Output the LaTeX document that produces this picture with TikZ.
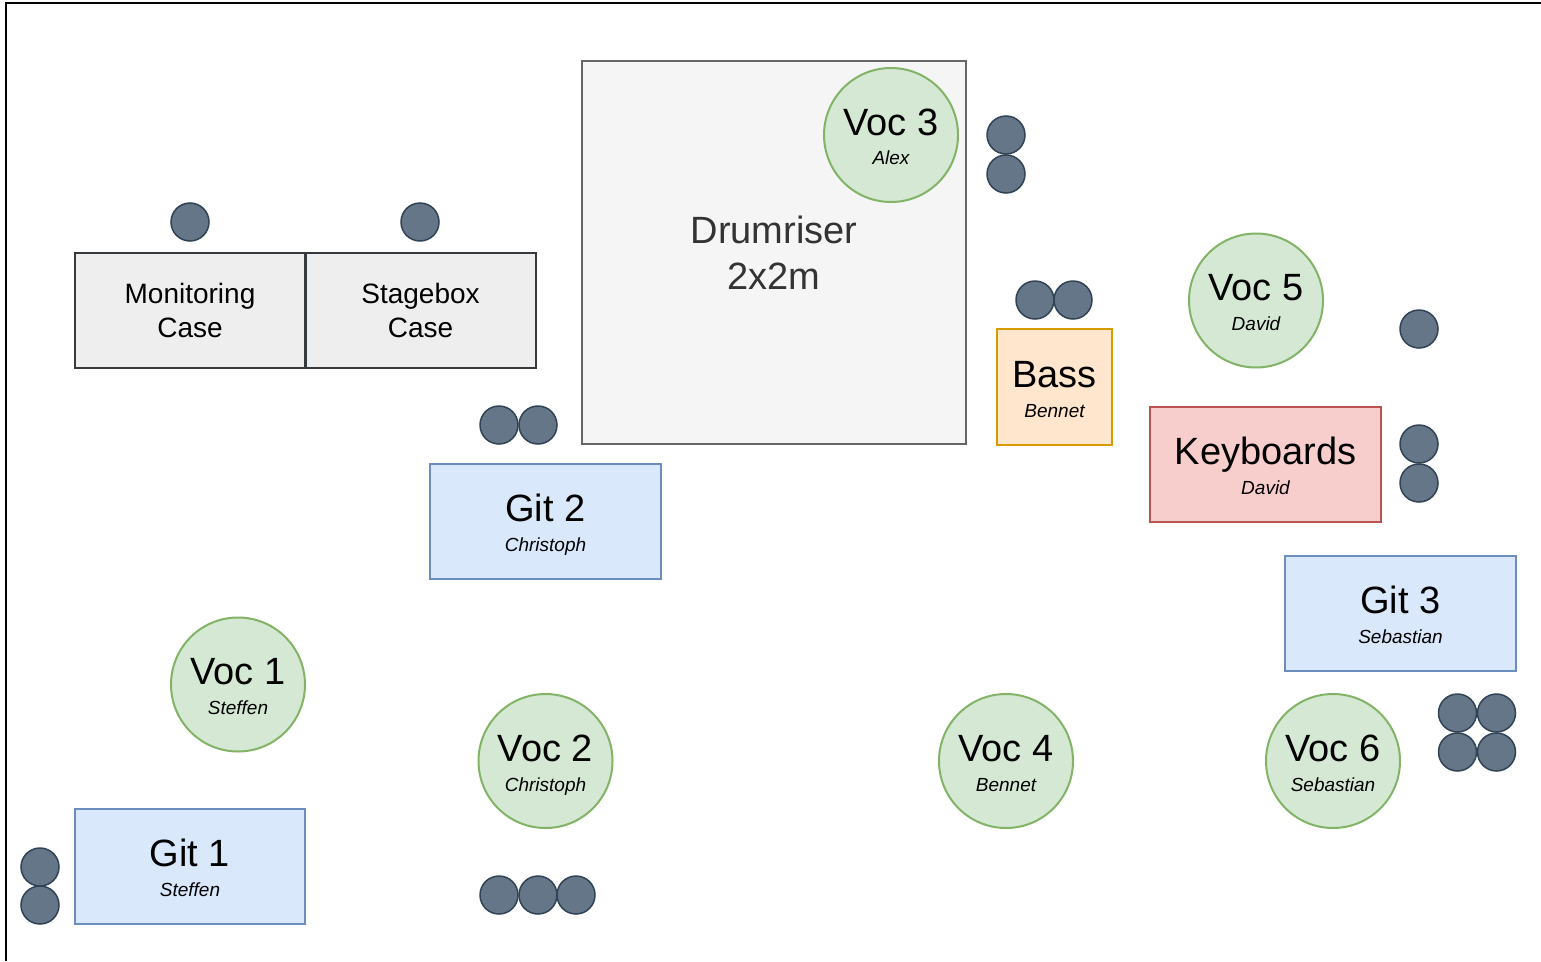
\documentclass[tikz,border=0pt]{standalone}
\usepackage{fontspec}
\setmainfont{Liberation Sans}

\definecolor{micfill}{HTML}{647687}
\definecolor{micline}{HTML}{314354}
\definecolor{vocfill}{HTML}{D5E8D4}
\definecolor{vocline}{HTML}{82B366}
\definecolor{gitfill}{HTML}{DAE8FC}
\definecolor{gitline}{HTML}{6C8EBF}
\definecolor{bassfill}{HTML}{FFE6CC}
\definecolor{bassline}{HTML}{D79B00}
\definecolor{keysfill}{HTML}{F8CECC}
\definecolor{keysline}{HTML}{B85450}
\definecolor{casefill}{HTML}{EEEEEE}
\definecolor{caseline}{HTML}{36393D}
\definecolor{drumfill}{HTML}{F5F5F5}
\definecolor{drumline}{HTML}{666666}
\definecolor{drumtext}{HTML}{333333}

\newcommand\stagebig{\fontsize{38}{46}\selectfont}
\newcommand\stagesmall{\fontsize{19}{23}\selectfont}
\newcommand\stagecase{\fontsize{28}{33.5}\selectfont}

\tikzset{
	mic/.style={circle, draw=micline, fill=micfill, line width=1.5pt, minimum size=38pt, inner sep=0pt},
	voc/.style={circle, draw=vocline, fill=vocfill, line width=2pt, minimum size=134pt, inner sep=0pt,
		font=\stagebig, text height=0pt, text depth=0pt},
	box/.style={rectangle, line width=2pt, inner sep=0pt, minimum width=230pt, minimum height=115pt,
		font=\stagebig, text height=0pt, text depth=0pt},
	git/.style={box, draw=gitline, fill=gitfill},
	case/.style={rectangle, draw=caseline, fill=casefill, line width=2pt, inner sep=0pt,
		minimum width=230pt, minimum height=115pt, align=center, font=\stagecase},
	who/.style={anchor=base, font=\stagesmall\itshape}
}

\begin{document}
\begin{tikzpicture}[x=1pt, y=-1pt]
	\useasboundingbox (0,0) rectangle (1541,961);
	\draw [line width=2pt] (6,961) -- (6,3) -- (1541,3);

	% cases
	\node [case] (mon) at (190,310.5) {Monitoring\\Case};
	\node [case] (stage) at (420.5,310.5) {Stagebox\\Case};
	\node [mic] (monmic) at (190,222) {};
	\node [mic] (stagemic) at (420,222) {};

	% drums
	\node [rectangle, draw=drumline, fill=drumfill, line width=2pt, minimum width=384pt, minimum height=383pt,
		align=center, font=\stagebig, text=drumtext] (drum) at (774,252.5) {Drumriser\\2x2m};
	\node [voc] (voc3) at (891,135) {Voc 3};
	\node [who] (voc3n) at ([yshift=-29pt]voc3.center) {Alex};
	\foreach \y in {135,174}
	\node [mic] (dm\y) at (1006,\y) {};

	% bass
	\node [box, draw=bassline, fill=bassfill, minimum width=115pt, minimum height=116pt] (bass) at (1054.5,387) {Bass};
	\node [who] (bassn) at ([yshift=-30pt]bass.center) {Bennet};
	\foreach \x in {1035,1073}
	\node [mic] (bm\x) at (\x,300) {};

	% keys
	\node [voc] (voc5) at (1256,300.5) {Voc 5};
	\node [who] (voc5n) at ([yshift=-30pt]voc5.center) {David};
	\node [mic] (v5m) at (1419,329) {};
	\node [box, draw=keysline, fill=keysfill, minimum width=231pt] (keys) at (1265.5,464) {Keyboards};
	\node [who] (keysn) at ([yshift=-30pt]keys.center) {David};
	\foreach \y in {444,483}
	\node [mic] (km\y) at (1419,\y) {};

	% guitars
	\node [git, minimum width=231pt] (git2) at (545.5,521.5) {Git 2};
	\node [who] (git2n) at ([yshift=-30pt]git2.center) {Christoph};
	\foreach \x in {499,538}
	\node [mic] (g2m\x) at (\x,425) {};
	\node [git, minimum width=231pt] (git3) at (1400.5,613.5) {Git 3};
	\node [who] (git3n) at ([yshift=-30pt]git3.center) {Sebastian};
	\node [git] (git1) at (190,866.5) {Git 1};
	\node [who] (git1n) at ([yshift=-30pt]git1.center) {Steffen};
	\foreach \y in {867,905}
	\node [mic] (g1m\y) at (40,\y) {};

	% front vocals
	\node [voc] (voc1) at (238,684.5) {Voc 1};
	\node [who] (voc1n) at ([yshift=-30pt]voc1.center) {Steffen};
	\node [voc] (voc2) at (545.5,761) {Voc 2};
	\node [who] (voc2n) at ([yshift=-30pt]voc2.center) {Christoph};
	\foreach \x in {499,538,576}
	\node [mic] (v2m\x) at (\x,895) {};
	\node [voc] (voc4) at (1006,761) {Voc 4};
	\node [who] (voc4n) at ([yshift=-30pt]voc4.center) {Bennet};
	\node [voc] (voc6) at (1333,761) {Voc 6};
	\node [who] (voc6n) at ([yshift=-30pt]voc6.center) {Sebastian};
	\foreach \x in {1457.5,1496.5}
	\foreach \y in {713,752}
	\node [mic] at (\x,\y) {};
\end{tikzpicture}
\end{document}
